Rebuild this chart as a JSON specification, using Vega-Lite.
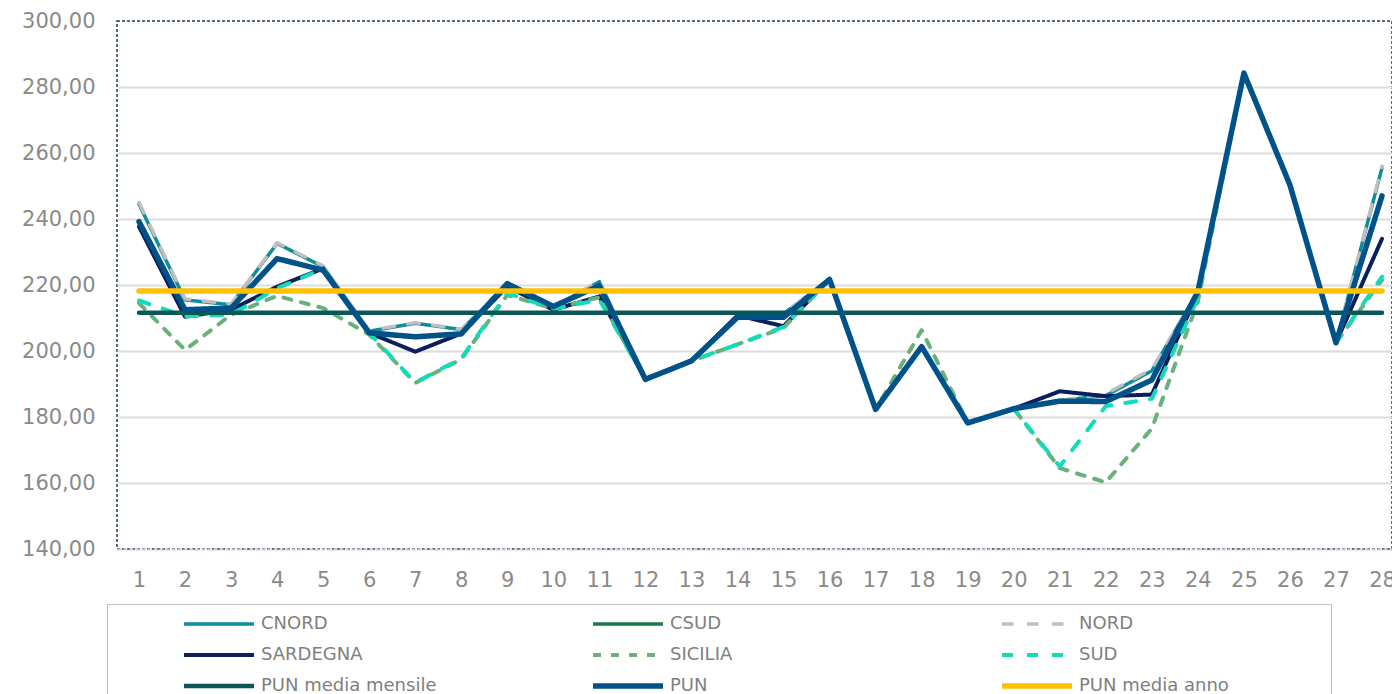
{
  "$schema": "https://vega.github.io/schema/vega-lite/v6.json",
  "width": 1275,
  "height": 528,
  "autosize": {"type": "none"},
  "padding": {"left": 117, "top": 21, "right": 0, "bottom": 145},
  "background": "white",
  "data": {
    "values": [
      {"giorno": 1, "CNORD": 244.5, "CSUD": 239.2, "NORD": 245.0, "SARDEGNA": 237.7, "SICILIA": 214.5, "SUD": 215.3, "PUN media mensile": 211.6, "PUN": 239.2, "PUN media anno": 218.2},
      {"giorno": 2, "CNORD": 215.5, "CSUD": 212.5, "NORD": 215.8, "SARDEGNA": 210.4, "SICILIA": 200.3, "SUD": 210.5, "PUN media mensile": 211.6, "PUN": 212.5, "PUN media anno": 218.2},
      {"giorno": 3, "CNORD": 214.0, "CSUD": 213.0, "NORD": 214.2, "SARDEGNA": 212.5, "SICILIA": 211.0, "SUD": 211.0, "PUN media mensile": 211.6, "PUN": 213.0, "PUN media anno": 218.2},
      {"giorno": 4, "CNORD": 232.6, "CSUD": 228.0, "NORD": 232.8, "SARDEGNA": 219.5, "SICILIA": 216.7, "SUD": 219.0, "PUN media mensile": 211.6, "PUN": 228.0, "PUN media anno": 218.2},
      {"giorno": 5, "CNORD": 225.5, "CSUD": 224.5, "NORD": 225.8, "SARDEGNA": 225.0, "SICILIA": 213.0, "SUD": 225.0, "PUN media mensile": 211.6, "PUN": 224.5, "PUN media anno": 218.2},
      {"giorno": 6, "CNORD": 206.0, "CSUD": 205.5, "NORD": 206.2, "SARDEGNA": 205.5, "SICILIA": 205.0, "SUD": 205.5, "PUN media mensile": 211.6, "PUN": 205.5, "PUN media anno": 218.2},
      {"giorno": 7, "CNORD": 208.4, "CSUD": 204.3, "NORD": 208.6, "SARDEGNA": 199.8, "SICILIA": 190.3, "SUD": 190.4, "PUN media mensile": 211.6, "PUN": 204.3, "PUN media anno": 218.2},
      {"giorno": 8, "CNORD": 206.5, "CSUD": 205.2, "NORD": 206.6, "SARDEGNA": 205.3, "SICILIA": 197.5, "SUD": 197.8, "PUN media mensile": 211.6, "PUN": 205.2, "PUN media anno": 218.2},
      {"giorno": 9, "CNORD": 219.8, "CSUD": 220.4, "NORD": 219.8, "SARDEGNA": 219.5, "SICILIA": 217.0, "SUD": 217.5, "PUN media mensile": 211.6, "PUN": 220.4, "PUN media anno": 218.2},
      {"giorno": 10, "CNORD": 213.3, "CSUD": 213.5, "NORD": 213.3, "SARDEGNA": 212.5, "SICILIA": 212.8, "SUD": 212.8, "PUN media mensile": 211.6, "PUN": 213.5, "PUN media anno": 218.2},
      {"giorno": 11, "CNORD": 221.0, "CSUD": 219.8, "NORD": 221.2, "SARDEGNA": 216.5, "SICILIA": 216.3, "SUD": 215.5, "PUN media mensile": 211.6, "PUN": 219.8, "PUN media anno": 218.2},
      {"giorno": 12, "CNORD": 191.5, "CSUD": 191.4, "NORD": 191.5, "SARDEGNA": 191.5, "SICILIA": 191.5, "SUD": 191.5, "PUN media mensile": 211.6, "PUN": 191.4, "PUN media anno": 218.2},
      {"giorno": 13, "CNORD": 197.0, "CSUD": 197.0, "NORD": 197.0, "SARDEGNA": 197.0, "SICILIA": 197.0, "SUD": 197.0, "PUN media mensile": 211.6, "PUN": 197.0, "PUN media anno": 218.2},
      {"giorno": 14, "CNORD": 210.6, "CSUD": 210.2, "NORD": 210.6, "SARDEGNA": 210.8, "SICILIA": 202.0, "SUD": 202.0, "PUN media mensile": 211.6, "PUN": 210.2, "PUN media anno": 218.2},
      {"giorno": 15, "CNORD": 211.3, "CSUD": 210.2, "NORD": 211.3, "SARDEGNA": 207.5, "SICILIA": 207.0, "SUD": 207.3, "PUN media mensile": 211.6, "PUN": 210.2, "PUN media anno": 218.2},
      {"giorno": 16, "CNORD": 221.7, "CSUD": 221.7, "NORD": 221.7, "SARDEGNA": 221.7, "SICILIA": 221.7, "SUD": 221.7, "PUN media mensile": 211.6, "PUN": 221.7, "PUN media anno": 218.2},
      {"giorno": 17, "CNORD": 182.3, "CSUD": 182.3, "NORD": 182.3, "SARDEGNA": 182.3, "SICILIA": 182.3, "SUD": 182.3, "PUN media mensile": 211.6, "PUN": 182.3, "PUN media anno": 218.2},
      {"giorno": 18, "CNORD": 201.3, "CSUD": 201.3, "NORD": 201.3, "SARDEGNA": 201.3, "SICILIA": 206.3, "SUD": 201.3, "PUN media mensile": 211.6, "PUN": 201.3, "PUN media anno": 218.2},
      {"giorno": 19, "CNORD": 178.2, "CSUD": 178.2, "NORD": 178.2, "SARDEGNA": 178.2, "SICILIA": 178.2, "SUD": 178.2, "PUN media mensile": 211.6, "PUN": 178.2, "PUN media anno": 218.2},
      {"giorno": 20, "CNORD": 182.5, "CSUD": 182.5, "NORD": 182.5, "SARDEGNA": 182.5, "SICILIA": 182.5, "SUD": 182.5, "PUN media mensile": 211.6, "PUN": 182.5, "PUN media anno": 218.2},
      {"giorno": 21, "CNORD": 185.0, "CSUD": 184.8, "NORD": 185.0, "SARDEGNA": 187.8, "SICILIA": 164.5, "SUD": 165.0, "PUN media mensile": 211.6, "PUN": 184.8, "PUN media anno": 218.2},
      {"giorno": 22, "CNORD": 186.5, "CSUD": 184.7, "NORD": 187.0, "SARDEGNA": 186.3, "SICILIA": 160.2, "SUD": 183.3, "PUN media mensile": 211.6, "PUN": 184.7, "PUN media anno": 218.2},
      {"giorno": 23, "CNORD": 194.0, "CSUD": 191.2, "NORD": 194.5, "SARDEGNA": 186.8, "SICILIA": 176.5, "SUD": 185.5, "PUN media mensile": 211.6, "PUN": 191.2, "PUN media anno": 218.2},
      {"giorno": 24, "CNORD": 218.0, "CSUD": 218.0, "NORD": 218.0, "SARDEGNA": 217.5, "SICILIA": 215.0, "SUD": 216.0, "PUN media mensile": 211.6, "PUN": 218.0, "PUN media anno": 218.2},
      {"giorno": 25, "CNORD": 284.2, "CSUD": 284.2, "NORD": 284.2, "SARDEGNA": 284.2, "SICILIA": 284.2, "SUD": 284.2, "PUN media mensile": 211.6, "PUN": 284.2, "PUN media anno": 218.2},
      {"giorno": 26, "CNORD": 250.3, "CSUD": 250.3, "NORD": 250.3, "SARDEGNA": 250.3, "SICILIA": 250.3, "SUD": 250.3, "PUN media mensile": 211.6, "PUN": 250.3, "PUN media anno": 218.2},
      {"giorno": 27, "CNORD": 202.5, "CSUD": 202.5, "NORD": 202.5, "SARDEGNA": 202.5, "SICILIA": 202.5, "SUD": 202.5, "PUN media mensile": 211.6, "PUN": 202.5, "PUN media anno": 218.2},
      {"giorno": 28, "CNORD": 255.5, "CSUD": 247.0, "NORD": 256.0, "SARDEGNA": 234.0, "SICILIA": 221.5, "SUD": 222.5, "PUN media mensile": 211.6, "PUN": 247.0, "PUN media anno": 218.2}
    ]
  },
  "transform": [
    {"fold": ["CNORD", "CSUD", "NORD", "SARDEGNA", "SICILIA", "SUD", "PUN media mensile", "PUN", "PUN media anno"], "as": ["serie", "valore"]}
  ],
  "mark": {"type": "line", "strokeCap": "round", "strokeJoin": "round"},
  "encoding": {
    "x": {
      "field": "giorno", "type": "quantitative",
      "scale": {"domain": [0.522, 28.217], "nice": false, "zero": false},
      "axis": {
        "title": null, "values": [1,2,3,4,5,6,7,8,9,10,11,12,13,14,15,16,17,18,19,20,21,22,23,24,25,26,27,28],
        "format": "d", "grid": false, "ticks": false, "tickSize": 0,
        "labelPadding": 20, "labelFont": "DejaVu Sans", "labelFontSize": 21, "labelColor": "#8a8a8a",
        "domainColor": "#c9ccd2", "domainDash": [4, 2], "domainWidth": 2, "labelFlush": false
      }
    },
    "y": {
      "field": "valore", "type": "quantitative",
      "scale": {"domain": [140, 300], "nice": false, "zero": false},
      "axis": {
        "title": null, "values": [140,160,180,200,220,240,260,280,300],
        "labelExpr": "replace(format(datum.value, '.2f'), '.', ',')",
        "domain": false, "ticks": false, "tickSize": 0, "labelPadding": 22,
        "labelFont": "DejaVu Sans", "labelFontSize": 21, "labelColor": "#8a8a8a",
        "gridColor": {"condition": {"test": "datum.value === 300 || datum.value === 140", "value": "transparent"}, "value": "#dcdcdc"},
        "gridWidth": 2
      }
    },
    "color": {
      "field": "serie", "type": "nominal",
      "scale": {
        "domain": ["CNORD", "CSUD", "NORD", "SARDEGNA", "SICILIA", "SUD", "PUN media mensile", "PUN", "PUN media anno"],
        "range": ["#0e8e9a", "#177a48", "#bfbfbf", "#0a1f5c", "#6ab07a", "#12dcb8", "#0b5757", "#005289", "#ffc000"]
      },
      "legend": {
        "title": "XXXXXX", "titleOrient": "right", "titleOpacity": 0, "titleFont": "DejaVu Sans", "titleFontSize": 18, "titlePadding": 8,
        "orient": "none", "legendX": -10, "legendY": 583,
        "direction": "horizontal", "columns": 3, "gridAlign": "all", "columnPadding": 89, "rowPadding": 11,
        "symbolType": "stroke", "symbolSize": 4900, "symbolStrokeWidth": 5, "symbolOffset": 64,
        "labelOffset": 4, "labelFont": "DejaVu Sans", "labelFontSize": 18, "labelColor": "#808080", "labelLimit": 0,
        "padding": 10, "strokeColor": "#c0c0c0", "fillColor": "white", "clipHeight": 20
      }
    },
    "strokeDash": {
      "field": "serie", "type": "nominal",
      "scale": {
        "domain": ["CNORD", "CSUD", "NORD", "SARDEGNA", "SICILIA", "SUD", "PUN media mensile", "PUN", "PUN media anno"],
        "range": [[1, 0], [1, 0], [11.5, 13.5], [1, 0], [8, 10], [11, 14], [1, 0], [1, 0], [1, 0]]
      }
    },
    "strokeWidth": {
      "field": "serie", "type": "nominal",
      "scale": {
        "type": "ordinal",
        "domain": ["CNORD", "CSUD", "NORD", "SARDEGNA", "SICILIA", "SUD", "PUN media mensile", "PUN", "PUN media anno"],
        "range": [3.5, 3.5, 3.5, 4, 4, 4, 4.5, 5.5, 5.5]
      },
      "legend": null
    }
  },
  "config": {
    "view": {"stroke": "#1f3864", "strokeDash": [3, 2], "strokeWidth": 1.5}
  }
}
